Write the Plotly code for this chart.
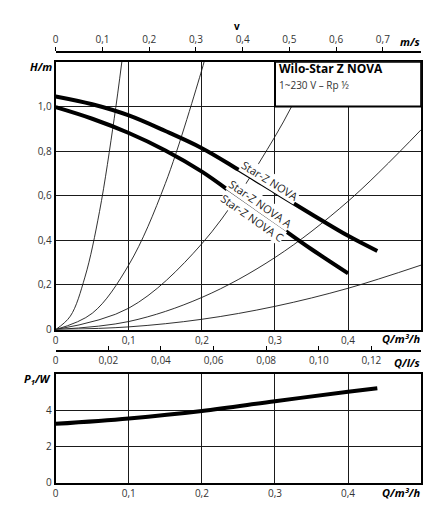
import plotly.graph_objects as go

# pump curves H(Q)
q_nova = [0, 0.05, 0.1, 0.15, 0.2, 0.25, 0.3, 0.35, 0.4, 0.44]
h_nova = [1.045, 1.01, 0.96, 0.89, 0.813, 0.717, 0.617, 0.517, 0.42, 0.352]
q_nova_ac = [0, 0.05, 0.1, 0.15, 0.2, 0.25, 0.3, 0.35, 0.4]
h_nova_ac = [0.997, 0.945, 0.881, 0.803, 0.708, 0.592, 0.476, 0.36, 0.252]

# system curves (thin lines)
sys_q = [
    [0, 0.02, 0.04, 0.06, 0.08, 0.0905],
    [0, 0.05, 0.1, 0.15, 0.2, 0.203],
    [0, 0.1, 0.2, 0.3, 0.353],
    [0, 0.1, 0.2, 0.3, 0.4, 0.5],
    [0, 0.1, 0.2, 0.3, 0.4, 0.5],
]
sys_h = [
    [0, 0.06, 0.235, 0.53, 0.945, 1.2],
    [0, 0.073, 0.29, 0.655, 1.165, 1.2],
    [0, 0.096, 0.385, 0.865, 1.2],
    [0, 0.036, 0.144, 0.323, 0.575, 0.896],
    [0, 0.012, 0.046, 0.104, 0.185, 0.289],
]

# power input P1(Q)
q_p1 = [0, 0.1, 0.2, 0.3, 0.4, 0.44]
p1 = [3.25, 3.55, 3.96, 4.5, 5.02, 5.22]

# tick labels
q_ticks = [0, 0.1, 0.2, 0.3, 0.4]
q_text = ["0", "0,1", "0,2", "0,3", "0,4"]
h_ticks = [0, 0.2, 0.4, 0.6, 0.8, 1.0]
h_text = ["0", "0,2", "0,4", "0,6", "0,8", "1,0"]
p_ticks = [0, 2, 4]
p_text = ["0", "2", "4"]
v_ticks = [0, 0.1, 0.2, 0.3, 0.4, 0.5, 0.6, 0.7]
v_text = ["0", "0,1", "0,2", "0,3", "0,4", "0,5", "0,6", "0,7"]
ls_ticks = [0, 0.02, 0.04, 0.06, 0.08, 0.10, 0.12]
ls_text = ["0", "0,02", "0,04", "0,06", "0,08", "0,10", "0,12"]

# page body has an 8px margin, so the figure is a bit smaller and shifted
OFF = 8
W, H = 448 - OFF, 528 - OFF
FONT = "Open Sans"
INK = "#1a1a1a"


def px(x):
    return (x - OFF) / W


def py(y):
    return 1 - (y - OFF) / H


fig = go.Figure()

for qs, hs in zip(sys_q, sys_h):
    fig.add_trace(go.Scatter(x=qs, y=hs, mode="lines", line=dict(color=INK, width=0.9, shape="spline"),
                             xaxis="x", yaxis="y", hoverinfo="skip", showlegend=False))

fig.add_trace(go.Scatter(x=q_nova, y=h_nova, mode="lines", line=dict(color="black", width=4, shape="spline"),
                         xaxis="x", yaxis="y", showlegend=False))
fig.add_trace(go.Scatter(x=q_nova_ac, y=h_nova_ac, mode="lines", line=dict(color="black", width=4, shape="spline"),
                         xaxis="x", yaxis="y", showlegend=False))

fig.add_trace(go.Scatter(x=q_p1, y=p1, mode="lines", line=dict(color="black", width=4, shape="spline"),
                         xaxis="x2", yaxis="y2", showlegend=False))

# dummy traces so the extra scales get drawn
fig.add_trace(go.Scatter(x=[0], y=[0], mode="markers", marker=dict(opacity=0), xaxis="x3", yaxis="y",
                         hoverinfo="skip", showlegend=False))
fig.add_trace(go.Scatter(x=[0], y=[0], mode="markers", marker=dict(opacity=0), xaxis="x4", yaxis="y",
                         hoverinfo="skip", showlegend=False))

xdom = [px(53), px(421)]
tickfont = dict(family=FONT, size=10, color="#333333")
frame = dict(showline=True, linecolor="black", linewidth=2, mirror=True, zeroline=False,
             showgrid=True, gridcolor=INK, gridwidth=1, tickfont=tickfont, ticks="", fixedrange=True)

fig.update_layout(
    width=W, height=H,
    margin=dict(l=0, r=0, t=0, b=0),
    paper_bgcolor="white", plot_bgcolor="white",
    font=dict(family=FONT, color=INK),
    xaxis=dict(domain=xdom, range=[0, 0.5], anchor="y", tickvals=q_ticks, ticktext=q_text, **frame),
    yaxis=dict(domain=[py(333.3), py(62.5)], range=[0, 1.2], anchor="x", tickvals=h_ticks, ticktext=h_text, **frame),
    xaxis2=dict(domain=xdom, range=[0, 0.5], anchor="y2", tickvals=q_ticks, ticktext=q_text, **frame),
    yaxis2=dict(domain=[py(488.3), py(378.3)], range=[0, 6], anchor="x2", tickvals=p_ticks, ticktext=p_text, **frame),
    xaxis3=dict(overlaying="x", side="top", anchor="free", position=py(52.5), range=[0, 0.782],
                tickvals=v_ticks, ticktext=v_text, showline=True, linecolor="black", linewidth=2,
                ticks="outside", ticklen=4, tickcolor="black", showgrid=False, zeroline=False,
                tickfont=tickfont, fixedrange=True),
    xaxis4=dict(overlaying="x", side="bottom", anchor="free", position=py(355), range=[0, 0.5 / 3.6],
                tickvals=ls_ticks, ticktext=ls_text, showline=True, linecolor="black", linewidth=2,
                ticks="inside", ticklen=4, tickcolor="black", showgrid=False, zeroline=False,
                tickfont=tickfont, fixedrange=True),
)

# white title box in the top right corner
fig.add_shape(type="rect", xref="x", yref="y", x0=0.3, x1=0.5, y0=1.0, y1=1.2,
              fillcolor="white", line=dict(color="black", width=2), layer="above")

lab = dict(family=FONT, size=11, color="black")
notes = [
    dict(x=px(277), y=py(77), text="<b>Wilo-Star Z NOVA</b><br><span style='font-size:10px;color:#333333'>1~230 V – Rp ½</span>",
         xanchor="left", align="left", font=dict(family=FONT, size=12, color="black")),
    dict(x=px(50.5), y=py(67), text="<b><i>H/m</i></b>", xanchor="right", font=lab),
    dict(x=px(49.5), y=py(383), text="<b><i>P<sub>1</sub>/W</i></b>", xanchor="right", font=lab),
    dict(x=px(421), y=py(342), text="<b><i>Q/m³/h</i></b>", xanchor="right", font=lab),
    dict(x=px(421), y=py(367), text="<b><i>Q/l/s</i></b>", xanchor="right", font=lab),
    dict(x=px(421), y=py(498), text="<b><i>Q/m³/h</i></b>", xanchor="right", font=lab),
    dict(x=px(421), y=py(42), text="<b><i>m/s</i></b>", xanchor="right", font=lab),
    dict(x=px(236), y=py(26), text="<b>v</b>", xanchor="center", font=dict(family=FONT, size=10, color="black")),
]
for n in notes:
    fig.add_annotation(xref="paper", yref="paper", showarrow=False, yanchor="middle", borderpad=0, **n)

# curve names along the lines
curve_labels = [
    ("Star-Z NOVA", 0.293, 0.668, 32),
    ("Star-Z NOVA C", 0.2686, 0.504, 35),
    ("Star-Z NOVA A", 0.2799, 0.567, 35),
]
for txt, xq, yh, ang in curve_labels:
    fig.add_annotation(xref="x", yref="y", x=xq, y=yh, text=txt, showarrow=False, textangle=ang,
                       bgcolor="white", borderpad=0, font=dict(family=FONT, size=11, color="#222222"))

fig.write_html("out.html")
